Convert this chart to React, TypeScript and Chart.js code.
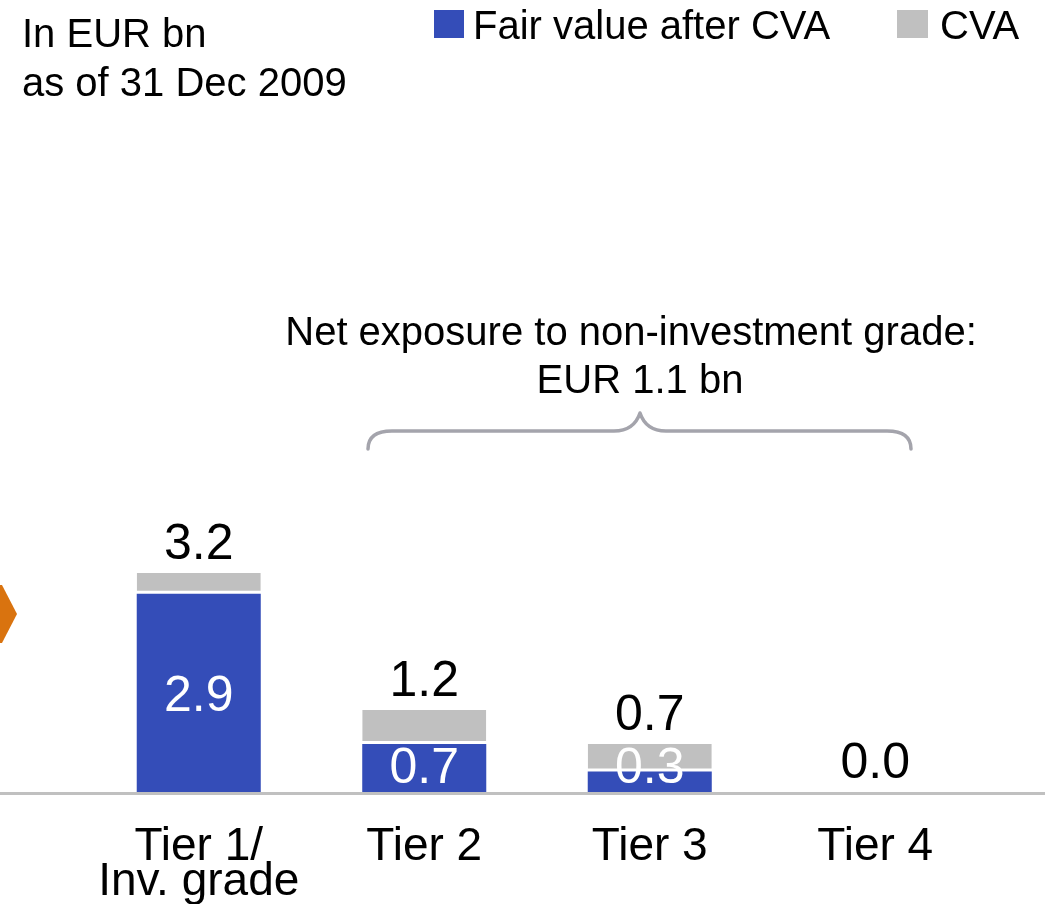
import React, { useEffect, useRef } from 'react';
import { Chart, registerables } from 'chart.js';

Chart.register(...registerables);

// ---- data ----
const categories: (string | string[])[] = [['Tier 1/', 'Inv. grade'], 'Tier 2', 'Tier 3', 'Tier 4'];
const seriesNames = ['Fair value after CVA', 'CVA'];
const fairValueAfterCVA = [2.9, 0.7, 0.3, 0.0];
const cvaValues = [0.3, 0.5, 0.4, 0.0];
const totalLabels = ['3.2', '1.2', '0.7', '0.0'];
const innerLabels = ['2.9', '0.7', '0.3', ''];
const titleLines = ['In EUR bn', 'as of 31 Dec 2009'];
const annotationLines = ['Net exposure to non-investment grade:', 'EUR 1.1 bn'];

// ---- styles ----
const FONT = "'Liberation Sans', Arial, Helvetica, sans-serif";
const BLUE = '#344db8';
const GREY = '#c0c0c0';
const ORANGE = '#d9730f';
const BRACE = '#a4a4ac';

const decorPlugin = {
  id: 'decor',
  afterDatasetsDraw(chart: any) {
    const ctx = chart.ctx as CanvasRenderingContext2D;
    const area = chart.chartArea;
    const W = chart.width;
    ctx.save();

    // baseline across full width
    ctx.strokeStyle = GREY;
    ctx.lineWidth = 3;
    ctx.beginPath();
    ctx.moveTo(0, area.bottom + 1.5);
    ctx.lineTo(W, area.bottom + 1.5);
    ctx.stroke();

    // title
    ctx.fillStyle = '#000';
    ctx.font = `40px ${FONT}`;
    ctx.textAlign = 'left';
    ctx.textBaseline = 'alphabetic';
    ctx.fillText(titleLines[0], 22, 47);
    ctx.fillText(titleLines[1], 22, 96);

    // legend
    const ds = chart.data.datasets;
    ctx.fillStyle = ds[0].backgroundColor;
    ctx.fillRect(434, 10, 30, 28);
    ctx.fillStyle = '#000';
    ctx.fillText(ds[0].label, 473, 39);
    ctx.fillStyle = ds[1].backgroundColor;
    ctx.fillRect(897, 10, 31, 28);
    ctx.fillStyle = '#000';
    ctx.fillText(ds[1].label, 940, 39);

    // annotation
    ctx.textAlign = 'center';
    ctx.fillText(annotationLines[0], 631, 345);
    ctx.fillText(annotationLines[1], 640, 393);

    // brace
    ctx.strokeStyle = BRACE;
    ctx.lineWidth = 3.5;
    ctx.lineCap = 'round';
    ctx.lineJoin = 'round';
    ctx.beginPath();
    ctx.moveTo(368, 449);
    ctx.quadraticCurveTo(368, 431, 392, 431);
    ctx.lineTo(614, 431);
    ctx.quadraticCurveTo(634, 431, 640, 413);
    ctx.quadraticCurveTo(646, 431, 666, 431);
    ctx.lineTo(887, 431);
    ctx.quadraticCurveTo(911, 431, 911, 449);
    ctx.stroke();

    // orange chevron at left edge
    ctx.fillStyle = ORANGE;
    ctx.beginPath();
    ctx.moveTo(0, 585);
    ctx.lineTo(2, 585);
    ctx.lineTo(17, 614);
    ctx.lineTo(2, 643);
    ctx.lineTo(0, 643);
    ctx.closePath();
    ctx.fill();

    // value labels
    const m0 = chart.getDatasetMeta(0);
    const m1 = chart.getDatasetMeta(1);
    ctx.font = `50px ${FONT}`;
    ctx.textAlign = 'center';
    for (let i = 0; i < categories.length; i++) {
      const top = m1.data[i];
      ctx.fillStyle = '#000';
      ctx.fillText(totalLabels[i], top.x, top.y - 14);
      const b = m0.data[i];
      if (innerLabels[i]) {
        const center = Math.min((b.y + b.base) / 2, b.base - 27);
        ctx.fillStyle = '#fff';
        ctx.fillText(innerLabels[i], b.x, center + 18);
      }
    }
    ctx.restore();
  },
};

export default function App() {
  const ref = useRef<HTMLCanvasElement | null>(null);
  useEffect(() => {
    if (!ref.current) return;
    const chart = new Chart(ref.current, {
      type: 'bar',
      data: {
        labels: categories,
        datasets: [
          {
            label: seriesNames[0],
            data: fairValueAfterCVA,
            backgroundColor: BLUE,
            borderWidth: 0,
            barPercentage: 1,
            categoryPercentage: 0.55,
          },
          {
            label: seriesNames[1],
            data: cvaValues,
            backgroundColor: GREY,
            borderColor: '#ffffff',
            borderWidth: { top: 0, left: 0, right: 0, bottom: 3 },
            borderSkipped: false,
            barPercentage: 1,
            categoryPercentage: 0.55,
          },
        ],
      },
      options: {
        animation: false,
        responsive: false,
        maintainAspectRatio: false,
        layout: { padding: { left: 86, right: 57, top: 450, bottom: 0 } },
        plugins: {
          legend: { display: false },
          tooltip: { enabled: false },
          title: { display: false },
        },
        scales: {
          x: {
            stacked: true,
            grid: { display: false, drawTicks: false },
            border: { display: false },
            ticks: {
              color: '#000',
              font: { family: FONT, size: 46, lineHeight: '35px' },
              padding: 38,
              maxRotation: 0,
              autoSkip: false,
            },
            afterFit: (s: any) => {
              s.height = 112;
            },
          },
          y: { stacked: true, display: false, min: 0, max: 5 },
        },
      },
      plugins: [decorPlugin],
    } as any);
    return () => chart.destroy();
  }, []);
  return (
    <div style={{ position: 'absolute', left: 0, top: 0, width: 1045, height: 904, background: '#fff' }}>
      <canvas ref={ref} width={1045} height={904} style={{ display: 'block', width: 1045, height: 904 }} />
    </div>
  );
}
